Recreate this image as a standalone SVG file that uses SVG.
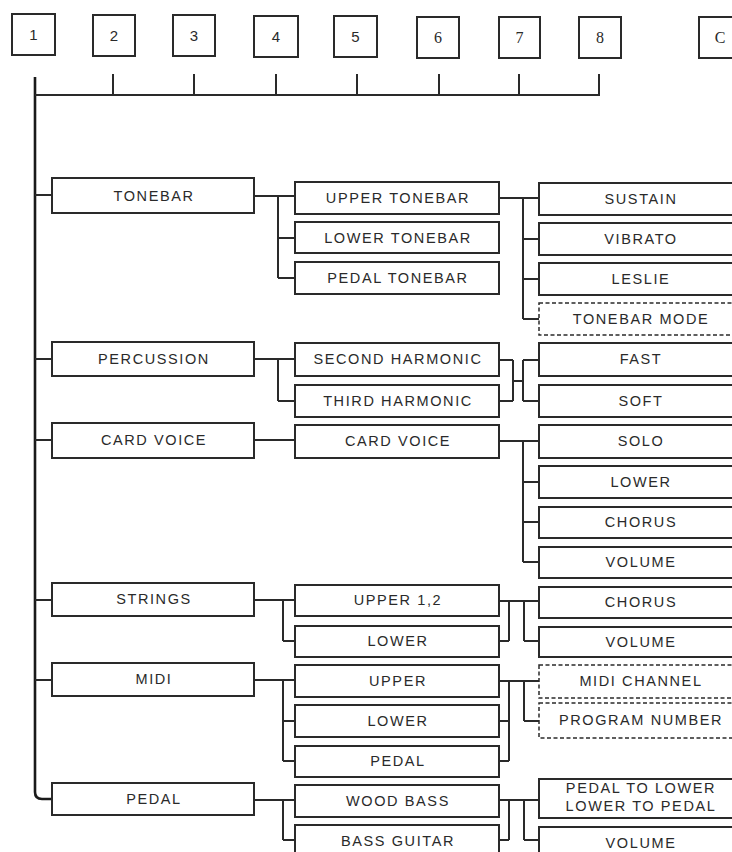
<svg xmlns="http://www.w3.org/2000/svg" width="732" height="852" viewBox="0 0 732 852">
<style>
.bg{fill:#fff}
.box{fill:#fff;stroke:#2a2a2a;stroke-width:2}
.dash{fill:#fff;stroke:#2a2a2a;stroke-width:1.5;stroke-dasharray:4 2.5}
.t{font-family:"Liberation Sans",Arial,sans-serif;font-size:14.5px;letter-spacing:1.6px;text-anchor:middle;fill:#2a2a2a}
.n{font-family:"Liberation Sans",Arial,sans-serif;font-size:15px;text-anchor:middle;fill:#2a2a2a}
.ns{font-family:"Liberation Serif","Times New Roman",serif;font-size:16px;text-anchor:middle;fill:#2a2a2a}
.c{fill:none;stroke:#2a2a2a;stroke-width:2}
.m{fill:none;stroke:#1a1a1a;stroke-width:2.6}
</style>
<rect class="bg" x="0" y="0" width="732" height="852"/>

<g id="top-boxes">
<g id="b1"><rect class="box" x="12" y="14" width="43" height="41"/><text class="n" x="33.5" y="40">1</text></g>
<g id="b2"><rect class="box" x="93" y="15" width="42" height="41"/><text class="n" x="114" y="41">2</text></g>
<g id="b3"><rect class="box" x="173" y="15" width="42" height="41"/><text class="n" x="194" y="41">3</text></g>
<g id="b4"><rect class="box" x="254" y="16" width="44" height="41"/><text class="n" x="276" y="42">4</text></g>
<g id="b5"><rect class="box" x="334" y="16" width="43" height="41"/><text class="n" x="355.5" y="42">5</text></g>
<g id="b6"><rect class="box" x="417" y="17" width="42" height="41"/><text class="ns" x="438" y="43">6</text></g>
<g id="b7"><rect class="box" x="499" y="17" width="41" height="41"/><text class="ns" x="519.5" y="43">7</text></g>
<g id="b8"><rect class="box" x="579" y="17" width="42" height="41"/><text class="ns" x="600" y="43">8</text></g>
<g id="bC"><rect class="box" x="699" y="17" width="42" height="41"/><text class="ns" x="720" y="43">C</text></g>
</g>

<g id="connectors">
<path class="m" d="M35,77 V792 Q35,799 42,799 H52"/>
<path class="c" d="M35,95 H600 M113,74 V95 M194,74 V95 M276,74 V95 M357,74 V95 M439,74 V95 M519,74 V95 M599,74 V95"/>
<path class="c" d="M35,195 H52 M35,359 H52 M35,440 H52 M35,600 H52 M35,680 H52"/>
<path class="c" d="M254,196 H295 M278,196 V278 M278,238 H295 M278,278 H295"/>
<path class="c" d="M254,359 H295 M278,359 V401 M278,401 H295"/>
<path class="c" d="M254,440 H295"/>
<path class="c" d="M254,600 H295 M283,600 V641 M283,641 H295"/>
<path class="c" d="M254,680 H295 M283,680 V761 M283,721 H295 M283,761 H295"/>
<path class="c" d="M254,800 H295 M283,800 V840 M283,840 H295"/>
<path class="c" d="M499,198 H539 M523,198 V319 M523,239 H539 M523,279 H539 M523,319 H539"/>
<path class="c" d="M499,360 H513 M499,401 H513 M513,360 V401 M513,381 H523 M523,360 V401 M523,360 H539 M523,401 H539"/>
<path class="c" d="M499,441 H539 M523,441 V562 M523,482 H539 M523,522 H539 M523,562 H539"/>
<path class="c" d="M499,601 H539 M509,601 V641 M499,641 H509 M524,601 V641 M524,641 H539"/>
<path class="c" d="M499,681 H539 M509,681 V761 M499,721 H509 M499,761 H509 M524,681 V721 M524,721 H539"/>
<path class="c" d="M499,800 H539 M509,800 V840 M499,840 H509 M524,800 V840 M524,840 H539"/>
</g>

<g id="level1">
<g id="tonebar"><rect class="box" x="52" y="178" width="202" height="35"/><text class="t" x="154" y="201">TONEBAR</text></g>
<g id="percussion"><rect class="box" x="52" y="342" width="202" height="34"/><text class="t" x="154" y="364">PERCUSSION</text></g>
<g id="cardvoice"><rect class="box" x="52" y="423" width="202" height="35"/><text class="t" x="154" y="445">CARD VOICE</text></g>
<g id="strings"><rect class="box" x="52" y="583" width="202" height="33"/><text class="t" x="154" y="604">STRINGS</text></g>
<g id="midi"><rect class="box" x="52" y="663" width="202" height="33"/><text class="t" x="154" y="684">MIDI</text></g>
<g id="pedal"><rect class="box" x="52" y="783" width="202" height="32"/><text class="t" x="154" y="804">PEDAL</text></g>
</g>

<g id="level2">
<g id="upper-tonebar"><rect class="box" x="295" y="182" width="204" height="32"/><text class="t" x="398" y="203">UPPER TONEBAR</text></g>
<g id="lower-tonebar"><rect class="box" x="295" y="222" width="204" height="31"/><text class="t" x="398" y="243">LOWER TONEBAR</text></g>
<g id="pedal-tonebar"><rect class="box" x="295" y="262" width="204" height="32"/><text class="t" x="398" y="283">PEDAL TONEBAR</text></g>
<g id="second-harmonic"><rect class="box" x="295" y="343" width="204" height="33"/><text class="t" x="398" y="364">SECOND HARMONIC</text></g>
<g id="third-harmonic"><rect class="box" x="295" y="385" width="204" height="32"/><text class="t" x="398" y="406">THIRD HARMONIC</text></g>
<g id="card-voice-2"><rect class="box" x="295" y="425" width="204" height="33"/><text class="t" x="398" y="446">CARD VOICE</text></g>
<g id="upper-12"><rect class="box" x="295" y="585" width="204" height="31"/><text class="t" x="398" y="605">UPPER 1,2</text></g>
<g id="strings-lower"><rect class="box" x="295" y="626" width="204" height="31"/><text class="t" x="398" y="646">LOWER</text></g>
<g id="midi-upper"><rect class="box" x="295" y="665" width="204" height="32"/><text class="t" x="398" y="686">UPPER</text></g>
<g id="midi-lower"><rect class="box" x="295" y="705" width="204" height="32"/><text class="t" x="398" y="726">LOWER</text></g>
<g id="midi-pedal"><rect class="box" x="295" y="746" width="204" height="31"/><text class="t" x="398" y="766">PEDAL</text></g>
<g id="wood-bass"><rect class="box" x="295" y="785" width="204" height="32"/><text class="t" x="398" y="806">WOOD BASS</text></g>
<g id="bass-guitar"><rect class="box" x="295" y="825" width="204" height="34"/><text class="t" x="398" y="846">BASS GUITAR</text></g>
</g>

<g id="level3">
<g id="sustain"><rect class="box" x="539" y="183" width="203" height="32"/><text class="t" x="641" y="204">SUSTAIN</text></g>
<g id="vibrato"><rect class="box" x="539" y="223" width="203" height="32"/><text class="t" x="641" y="244">VIBRATO</text></g>
<g id="leslie"><rect class="box" x="539" y="263" width="203" height="32"/><text class="t" x="641" y="284">LESLIE</text></g>
<g id="tonebar-mode"><rect class="dash" x="539" y="303" width="203" height="32"/><text class="t" x="641" y="324">TONEBAR MODE</text></g>
<g id="fast"><rect class="box" x="539" y="343" width="203" height="33"/><text class="t" x="641" y="364">FAST</text></g>
<g id="soft"><rect class="box" x="539" y="385" width="203" height="32"/><text class="t" x="641" y="406">SOFT</text></g>
<g id="solo"><rect class="box" x="539" y="425" width="203" height="33"/><text class="t" x="641" y="446">SOLO</text></g>
<g id="cv-lower"><rect class="box" x="539" y="466" width="203" height="32"/><text class="t" x="641" y="487">LOWER</text></g>
<g id="cv-chorus"><rect class="box" x="539" y="507" width="203" height="31"/><text class="t" x="641" y="527">CHORUS</text></g>
<g id="cv-volume"><rect class="box" x="539" y="547" width="203" height="31"/><text class="t" x="641" y="567">VOLUME</text></g>
<g id="st-chorus"><rect class="box" x="539" y="587" width="203" height="31"/><text class="t" x="641" y="607">CHORUS</text></g>
<g id="st-volume"><rect class="box" x="539" y="627" width="203" height="30"/><text class="t" x="641" y="647">VOLUME</text></g>
<g id="midi-channel"><rect class="dash" x="539" y="665" width="203" height="33"/><text class="t" x="641" y="686">MIDI CHANNEL</text></g>
<g id="program-number"><rect class="dash" x="539" y="703" width="203" height="35"/><text class="t" x="641" y="725">PROGRAM NUMBER</text></g>
<g id="pedal-lower"><rect class="box" x="539" y="779" width="203" height="39"/><text class="t" x="641" y="793">PEDAL TO LOWER</text><text class="t" x="641" y="811">LOWER TO PEDAL</text></g>
<g id="pd-volume"><rect class="box" x="539" y="827" width="203" height="34"/><text class="t" x="641" y="848">VOLUME</text></g>
</g>
</svg>
